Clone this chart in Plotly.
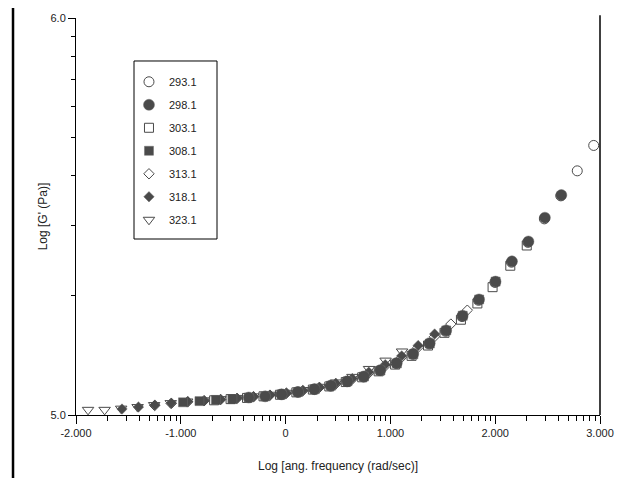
import plotly.graph_objects as go

# ---- data (log angular frequency, log G') ----
temps = ["293.1", "298.1", "303.1", "308.1", "313.1", "318.1", "323.1"]

x_2931 = [-0.043, 0.114, 0.271, 0.428, 0.585, 0.742, 0.899, 1.056, 1.213, 1.370,
          1.527, 1.684, 1.841, 1.998, 2.155, 2.312, 2.469, 2.626, 2.783, 2.940]
y_2931 = [5.052, 5.058, 5.065, 5.073, 5.084, 5.096, 5.112, 5.130, 5.153, 5.179,
          5.211, 5.248, 5.289, 5.334, 5.385, 5.435, 5.494, 5.552, 5.615, 5.679]

x_2981 = [-0.352, -0.195, -0.038, 0.119, 0.276, 0.433, 0.590, 0.747, 0.904, 1.061,
          1.218, 1.375, 1.532, 1.689, 1.846, 2.003, 2.160, 2.317, 2.474, 2.631]
y_2981 = [5.044, 5.047, 5.052, 5.058, 5.065, 5.074, 5.085, 5.097, 5.113, 5.131,
          5.154, 5.181, 5.213, 5.250, 5.291, 5.336, 5.387, 5.437, 5.497, 5.554]

x_3031 = [-0.682, -0.525, -0.368, -0.211, -0.054, 0.103, 0.260, 0.417, 0.574, 0.731,
          0.888, 1.045, 1.202, 1.359, 1.516, 1.673, 1.830, 1.975, 2.144, 2.301]
y_3031 = [5.037, 5.040, 5.043, 5.047, 5.051, 5.057, 5.064, 5.072, 5.083, 5.095,
          5.110, 5.127, 5.149, 5.175, 5.207, 5.240, 5.281, 5.322, 5.376, 5.427]

x_3081 = [-0.979, -0.822, -0.665, -0.508, -0.351, -0.194, -0.037, 0.120, 0.277, 0.434,
          0.591, 0.748, 0.905, 1.062, 1.219, 1.376, 1.533, 1.690, 1.847, 2.004]
y_3081 = [5.032, 5.035, 5.038, 5.040, 5.044, 5.047, 5.052, 5.058, 5.065, 5.074,
          5.085, 5.097, 5.112, 5.130, 5.153, 5.180, 5.213, 5.250, 5.291, 5.336]

x_3131 = [-1.249, -1.092, -0.935, -0.778, -0.621, -0.464, -0.307, -0.150, 0.007, 0.164,
          0.321, 0.478, 0.635, 0.792, 0.949, 1.106, 1.263, 1.420, 1.577, 1.734]
y_3131 = [5.024, 5.029, 5.033, 5.036, 5.039, 5.042, 5.046, 5.050, 5.055, 5.061,
          5.069, 5.078, 5.090, 5.105, 5.123, 5.145, 5.170, 5.197, 5.229, 5.264]

x_3181 = [-1.561, -1.404, -1.247, -1.090, -0.933, -0.776, -0.619, -0.462, -0.305, -0.148,
          0.009, 0.166, 0.323, 0.480, 0.637, 0.794, 0.951, 1.108, 1.265, 1.422]
y_3181 = [5.015, 5.020, 5.025, 5.030, 5.034, 5.036, 5.039, 5.042, 5.046, 5.050,
          5.055, 5.062, 5.070, 5.080, 5.092, 5.108, 5.127, 5.149, 5.175, 5.204]

x_3231 = [-1.885, -1.727, -1.569, -1.412, -1.254, -1.096, -0.939, -0.781, -0.623, -0.466,
          -0.308, -0.150, 0.007, 0.165, 0.323, 0.481, 0.638, 0.796, 0.954, 1.111]
y_3231 = [5.013, 5.013, 5.016, 5.020, 5.025, 5.030, 5.034, 5.037, 5.040, 5.043,
          5.047, 5.051, 5.056, 5.063, 5.071, 5.082, 5.096, 5.116, 5.137, 5.160]

x_tickvals = [-2, -1, 0, 1, 2, 3]
x_ticktext = ["-2.000", "-1.000", "0", "1.000", "2.000", "3.000"]
y_tickvals = [5.0, 6.0]
y_ticktext = ["5.0", "6.0"]
log_steps = [0.30103, 0.47712, 0.60206, 0.69897, 0.77815, 0.84510, 0.90309, 0.95424]

series_x = [x_2931, x_2981, x_3031, x_3081, x_3131, x_3181, x_3231]
series_y = [y_2931, y_2981, y_3031, y_3081, y_3131, y_3181, y_3231]
symbols = ["circle-open", "circle", "square-open", "square",
           "diamond-open", "diamond", "triangle-down-open"]
sizes = [10, 11, 9, 9, 8, 8, 10]

DARK = "#4a4a4a"
fig = go.Figure()
# draw highest temperature first so low temperatures lie on top
for i in reversed(range(len(temps))):
    sym = symbols[i]
    is_open = sym.endswith("-open")
    fig.add_trace(go.Scatter(
        x=series_x[i], y=series_y[i], mode="markers", name=temps[i],
        legendgroup=temps[i], legendrank=i + 1,
        marker=dict(symbol=sym, size=sizes[i], color=DARK,
                    line=dict(color=DARK if is_open else "#6a6a6a",
                              width=1 if is_open else 0.5)),
    ))

x_minor = [d + s for d in range(-2, 3) for s in log_steps]
y_minor = [5 + s for s in log_steps]

FONT = "Liberation Sans, Arial, sans-serif"
fig.update_layout(
    width=630, height=478,
    margin=dict(l=68, r=38, t=10, b=71),
    paper_bgcolor="white", plot_bgcolor="white",
    font=dict(family=FONT, size=11, color="#222222"),
    showlegend=True,
    legend=dict(x=0.1011, y=0.889, xanchor="left", yanchor="top",
                borderwidth=0, bgcolor="rgba(255,255,255,0)",
                traceorder="grouped", tracegroupgap=4,
                title=dict(text=" ", font=dict(size=4)),
                font=dict(family=FONT, size=11, color="#222222")),
    xaxis=dict(range=[-2, 3], showgrid=False, zeroline=False, automargin=False,
               showline=True, linecolor="black", linewidth=1,
               ticks="outside", ticklen=8, tickcolor="black", tickwidth=1,
               tickmode="array", tickvals=x_tickvals, ticktext=x_ticktext,
               tickfont=dict(size=11, color="#222222"),
               minor=dict(tickmode="array", tickvals=x_minor, ticks="outside",
                          ticklen=5, tickcolor="black", tickwidth=1, showgrid=False),
               title=dict(text="Log [ang. frequency (rad/sec)]", standoff=23,
                          font=dict(size=12, color="#222222"))),
    yaxis=dict(range=[5, 6], showgrid=False, zeroline=False, automargin=False,
               showline=True, linecolor="black", linewidth=1,
               ticks="outside", ticklen=7, tickcolor="black", tickwidth=1,
               tickmode="array", tickvals=y_tickvals, ticktext=y_ticktext,
               tickfont=dict(size=11, color="#222222"),
               minor=dict(tickmode="array", tickvals=y_minor, ticks="outside",
                          ticklen=4, tickcolor="black", tickwidth=1, showgrid=False),
               title=dict(text="Log [G' (Pa)]", standoff=0,
                          font=dict(size=12, color="#222222"))),
    shapes=[
        # legend frame
        dict(type="rect", xref="paper", yref="paper", x0=0.1107, x1=0.2691,
             y0=0.4433, y1=0.8917, line=dict(color="black", width=1),
             fillcolor="white", layer="below"),
        # right spine
        dict(type="line", xref="paper", yref="paper", x0=1, x1=1, y0=0, y1=1.007,
             line=dict(color="black", width=1.5)),
        # outer figure frame (left and bottom)
        dict(type="line", xref="paper", yref="paper", x0=-0.1202, x1=-0.1202,
             y0=-0.1755, y1=1.03, line=dict(color="black", width=2.5)),
        dict(type="line", xref="paper", yref="paper", x0=-0.1225, x1=1.08,
             y0=-0.1742, y1=-0.1742, line=dict(color="black", width=2.5)),
    ],
)

fig.write_html("out.html")
